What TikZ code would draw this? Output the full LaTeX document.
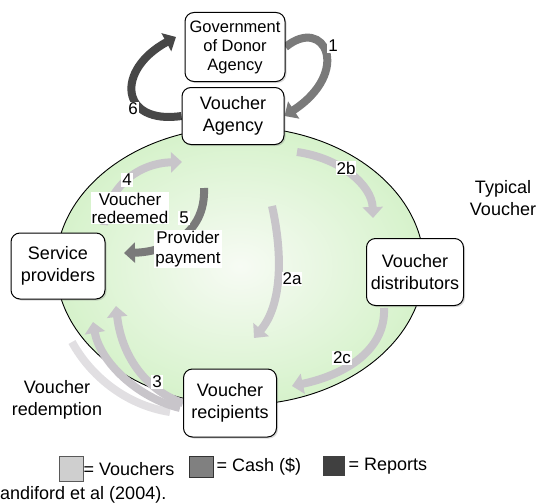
\documentclass[tikz,border=0pt]{standalone}
\usepackage{fontspec}
\setmainfont{Liberation Sans}
\usetikzlibrary{arrows.meta,shadows}
\definecolor{vouch}{HTML}{C8C5CA}
\definecolor{cash}{HTML}{7A7A7A}
\definecolor{rep}{HTML}{474747}
\definecolor{ellin}{HTML}{F7FBF4}
\definecolor{ellout}{HTML}{D6F2CB}
\pgfdeclarelayer{bg}
\pgfsetlayers{bg,main}
\tikzset{
 box/.style={draw=black, line width=1pt, fill=white, rounded corners=9pt, align=center,
   font=\fontsize{18}{22}\selectfont, inner sep=1pt,
   drop shadow={shadow xshift=1.5pt,shadow yshift=-1.5pt,opacity=0.3}},
 lbl/.style={fill=white, inner sep=1pt, font=\fontsize{17}{20}\selectfont},
 txt/.style={align=center, font=\fontsize{18}{22}\selectfont, inner sep=0pt},
 flow/.style={line width=8pt, -{Triangle[length=11pt,width=20pt]}},
 vflow/.style={flow, draw=vouch},
 cflow/.style={flow, draw=cash},
 rflow/.style={flow, draw=rep},
 legbox/.style={inner sep=0pt, line width=1pt}
}
\begin{document}
\begin{tikzpicture}[x=1pt,y=-1pt]
\useasboundingbox (0,0) rectangle (538,503);
% nodes
\node[box, minimum width=100pt, minimum height=69pt, font=\fontsize{16.5}{19}\selectfont] (gov) at (235,47) {Government\\of Donor\\Agency};
\node[box, minimum width=102pt, minimum height=57pt] (va) at (233,116) {Voucher\\Agency};
\node[box, minimum width=94pt, minimum height=66pt] (sp) at (58,266) {Service\\providers};
\node[box, minimum width=97pt, minimum height=67pt] (vd) at (415,272) {Voucher\\distributors};
\node[box, minimum width=93pt, minimum height=68pt] (vr) at (230,403) {Voucher\\recipients};
% free ends
\coordinate (c6e) at (176,37);
\coordinate (b2s) at (297,152);
\coordinate (b2e) at (373,218);
\coordinate (a2s) at (272,206);
\coordinate (a2e) at (254,338);
\coordinate (c2s) at (384,308);
\coordinate (c2e) at (292,386);
\coordinate (t3a) at (116,306);
\coordinate (t3b) at (93,322);
\coordinate (t3c) at (72,342);
\coordinate (s3b) at (180,408);
\coordinate (s3c) at (170,412);
\coordinate (r4s) at (104,225);
\coordinate (r4e) at (182,162);
\coordinate (p5s) at (204,188);
\coordinate (p5e) at (124,253);
\begin{pgfonlayer}{bg}
\shade[inner color=ellin, outer color=ellout] (240,266) ellipse [x radius=184pt, y radius=139pt];
\draw[line width=0.9pt] (240,266) ellipse [x radius=184pt, y radius=139pt];
\draw[cflow] (gov.east) .. controls (325,15) and (352,72) .. (va.east);
\draw[rflow] (va.west) .. controls (120,125) and (115,70) .. (c6e);
\draw[vflow] (b2s) .. controls (340,158) and (372,185) .. (b2e);
\draw[vflow] (a2s) .. controls (283,255) and (282,305) .. (a2e);
\draw[vflow] (c2s) .. controls (386,350) and (345,375) .. (c2e);
\draw[vflow] (vr.west) .. controls (150,392) and (122,360) .. (t3a);
\draw[vflow] (s3b) .. controls (138,398) and (100,362) .. (t3b);
\draw[vflow, opacity=0.55, -] (s3c) .. controls (125,405) and (90,375) .. (t3c);
\draw[vflow] (r4s) .. controls (108,185) and (140,163) .. (r4e);
\draw[cflow] (p5s) .. controls (206,235) and (165,252) .. (p5e);
\end{pgfonlayer}
% labels
\node[lbl] (l1) at (333,46) {1};
\node[lbl] (l6) at (133,109) {6};
\node[lbl] (l2b) at (346,168) {2b};
\node[lbl] (l2a) at (292,279) {2a};
\node[lbl] (l2c) at (342,358) {2c};
\node[lbl] (l3) at (157,382) {3};
\node[lbl] (l4) at (127,180) {4};
\node[txt, fill=white, font=\fontsize{17}{18}\selectfont, inner sep=1pt] (lvr) at (130,208) {Voucher\\redeemed};
\node[lbl] (l5) at (184,218) {5};
\node[txt, fill=white, font=\fontsize{17}{20}\selectfont, inner sep=1pt] (lpp) at (188,249) {Provider\\payment};
\node[txt] (typ) at (503,198) {Typical\\Voucher};
\node[txt] (red) at (57,400) {Voucher\\redemption};
% legend
\node[legbox, draw=black!65, fill=black!19, minimum width=24pt, minimum height=25pt] (k1) at (71,469) {};
\node[txt, anchor=west] (k1t) at (k1.east) {= Vouchers};
\node[legbox, draw=black!80, fill=black!50, minimum width=24pt, minimum height=21pt] (k2) at (201,467) {};
\node[txt, anchor=west] (k2t) at ([xshift=3pt]k2.east) {= Cash (\$)};
\node[legbox, fill=black!75, minimum width=22pt, minimum height=20pt] (k3) at (334,466) {};
\node[txt, anchor=west] (k3t) at ([xshift=3pt]k3.east) {= Reports};
\node[txt, anchor=west] (cite) at (0,495) {andiford et al (2004).};
\end{tikzpicture}
\end{document}
